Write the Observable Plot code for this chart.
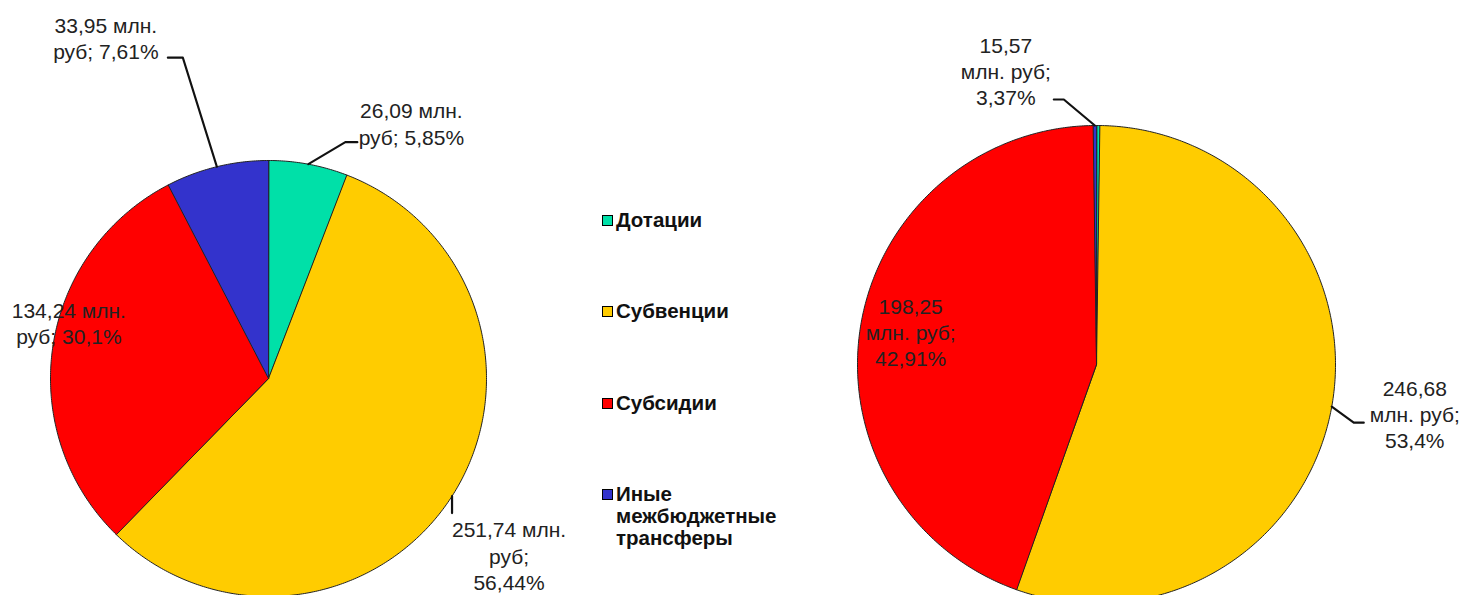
<!DOCTYPE html>
<html><head><meta charset="utf-8">
<script src="https://cdn.jsdelivr.net/npm/d3@7"></script>
<script src="https://cdn.jsdelivr.net/npm/@observablehq/plot@0.6"></script>
<style>
html,body{margin:0;padding:0;background:#fff;}
#wrap{position:relative;width:1464px;height:595px;overflow:hidden;font-family:"Liberation Sans",Arial,sans-serif;}
.plot{position:absolute;top:0;}
#legend{position:absolute;left:602px;top:0;}
.item{position:absolute;left:0;display:flex;align-items:flex-start;font-weight:bold;font-size:20.5px;color:#111;white-space:pre;line-height:22px;}
.sw{width:11px;height:11px;border:1px solid #000;box-sizing:border-box;margin-right:3px;margin-top:6px;flex:none;}
</style></head><body><div id="wrap"></div>
<script>
// ---- data ----
const categories = ["Дотации", "Субвенции", "Субсидии", "Иные межбюджетные трансферы"];
const colors = ["#00E0A8", "#FFCC00", "#FF0000", "#3333CC"];
const legendLabels = ["Дотации", "Субвенции", "Субсидии", "Иные\nмежбюджетные\nтрансферы"];

const leftValues = [26.09, 251.74, 134.24, 33.95];
const leftLabels = ["26,09 млн.\nруб; 5,85%", "251,74 млн.\nруб;\n56,44%", "134,24 млн.\nруб; 30,1%", "33,95 млн.\nруб; 7,61%"];

// slice sizes as drawn in the picture (the two small slices are thin slivers)
const rightValues = [1.0, 246.68, 198.25, 1.0];
const rightLabels = ["", "246,68\nмлн. руб;\n53,4%", "198,25\nмлн. руб;\n42,91%", "15,57\nмлн. руб;\n3,37%"];

// ---- layout (pixels) ----
const leftLayout = {left: 0, width: 600, height: 595, cx: 268, cy: 378, r: 218,
  labels: [
    {dx: 103, dy: -41, leader: [[37, -22], [49, -22]]},
    {dx: 57, dy: 59, leader: [[0, 17]]},
    {dx: 16, dy: -24, leader: null},
    {dx: -111, dy: -129, leader: [[-34, -109], [-49, -109]]}
  ]};
const rightLayout = {left: 820, width: 644, height: 595, cx: 276, cy: 364, r: 239,
  labels: [
    null,
    {dx: 83, dy: 7, leader: [[22, 16], [32, 16]]},
    {dx: 50, dy: 6, leader: null},
    {dx: -89, dy: -55, leader: [[-31, -26], [-41, -26]]}
  ]};

function piePlot(values, labels, L) {
  const arcs = d3.pie().sort(null).value(d => d)(values);
  const pts = [];
  arcs.forEach((a, i) => {
    const cat = categories[i];
    pts.push({x: 0, y: 0, cat});
    const n = Math.max(2, Math.ceil((a.endAngle - a.startAngle) / 0.01));
    for (let k = 0; k <= n; k++) {
      const t = a.startAngle + (a.endAngle - a.startAngle) * k / n;
      pts.push({x: Math.sin(t), y: Math.cos(t), cat});
    }
  });
  const marks = [
    Plot.line(pts, {x: "x", y: "y", z: "cat", fill: "cat", stroke: "#222", strokeWidth: 1, curve: "linear-closed"})
  ];
  arcs.forEach((a, i) => {
    const lay = L.labels[i];
    if (!lay || !labels[i]) return;
    const m = (a.startAngle + a.endAngle) / 2;
    const ex = Math.sin(m), ey = Math.cos(m);
    if (lay.leader) {
      const lp = [{x: ex, y: ey}].concat(lay.leader.map(([ox, oy]) => ({x: ex + ox / L.r, y: ey - oy / L.r})));
      marks.push(Plot.line(lp, {x: "x", y: "y", stroke: "#111", strokeWidth: 2.2}));
    }
    marks.push(Plot.text([{x: ex, y: ey, t: labels[i]}], {
      x: "x", y: "y", text: "t", dx: lay.dx, dy: lay.dy,
      fontSize: 21, lineHeight: 1.25, fill: "#222", textAnchor: "middle",
      fontFamily: "Liberation Sans, Arial, sans-serif"
    }));
  });
  const svg = Plot.plot({
    width: L.width, height: L.height, margin: 0,
    x: {domain: [-L.cx / L.r, (L.width - L.cx) / L.r], axis: null},
    y: {domain: [-(L.height - L.cy) / L.r, L.cy / L.r], axis: null},
    color: {domain: categories, range: colors},
    style: {background: "transparent", overflow: "hidden"},
    marks
  });
  svg.classList.add("plot");
  svg.style.left = L.left + "px";
  return svg;
}

const wrap = document.getElementById("wrap");
wrap.appendChild(piePlot(leftValues, leftLabels, leftLayout));
wrap.appendChild(piePlot(rightValues, rightLabels, rightLayout));

// legend
const legendTops = [209, 300, 392, 483];
const legend = document.createElement("div");
legend.id = "legend";
legendLabels.forEach((lab, i) => {
  const it = document.createElement("div");
  it.className = "item";
  it.style.top = legendTops[i] + "px";
  const sw = document.createElement("div");
  sw.className = "sw";
  sw.style.background = colors[i];
  const tx = document.createElement("div");
  tx.textContent = lab;
  it.appendChild(sw); it.appendChild(tx);
  legend.appendChild(it);
});
wrap.appendChild(legend);
</script></body></html>
